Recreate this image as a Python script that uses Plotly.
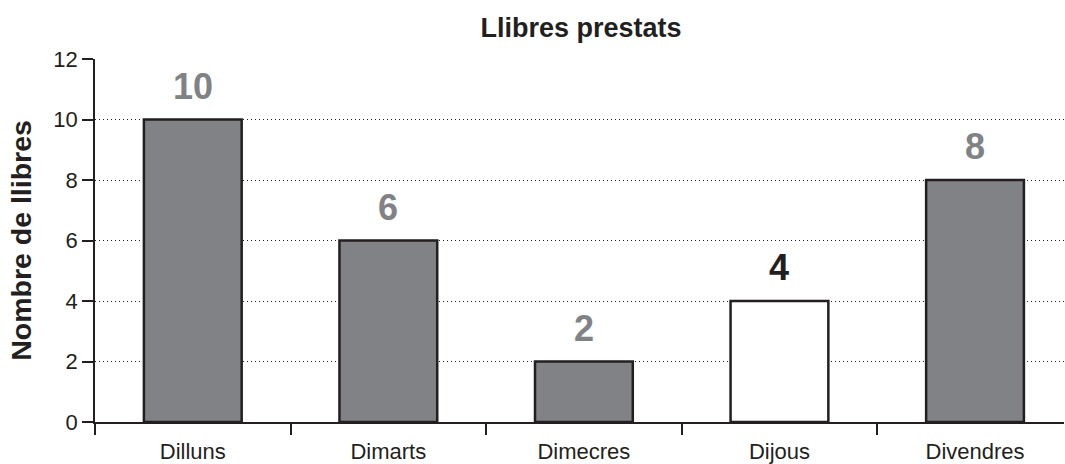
import plotly.graph_objects as go

days = ["Dilluns", "Dimarts", "Dimecres", "Dijous", "Divendres"]
books = [10, 6, 2, 4, 8]
fill_colors = ["#808285", "#808285", "#808285", "#ffffff", "#808285"]
label_colors = ["#808285", "#808285", "#808285", "#231f20", "#808285"]

ink = "#231f20"
font_family = "Liberation Sans, Arial, Helvetica, sans-serif"

fig = go.Figure()
fig.add_trace(go.Bar(
    x=days,
    y=books,
    width=0.5,
    marker=dict(color=fill_colors, line=dict(color=ink, width=2.5)),
    hoverinfo="x+y",
))

for d, v, c in zip(days, books, label_colors):
    fig.add_annotation(
        x=d, y=v, xref="x", yref="y",
        text=f"<b>{v}</b>",
        showarrow=False,
        yanchor="bottom",
        yshift=11,
        font=dict(family=font_family, size=36, color=c),
    )

fig.update_layout(
    width=1065,
    height=464,
    margin=dict(l=95, r=1, t=59, b=42),
    paper_bgcolor="white",
    plot_bgcolor="white",
    showlegend=False,
    font=dict(family=font_family, color=ink, size=22),
    title=dict(
        text="<b>Llibres prestats</b>",
        x=0.5455,
        xanchor="center",
        y=1 - 28 / 464,
        yanchor="middle",
        font=dict(size=27, color=ink, family=font_family),
    ),
)

fig.update_xaxes(
    type="category",
    range=[-0.5, 4.455],
    tickson="boundaries",
    ticks="outside",
    ticklen=11,
    tickwidth=1.5,
    tickcolor=ink,
    showline=True,
    linecolor=ink,
    linewidth=2,
    showgrid=False,
    ticklabelstandoff=9,
    tickfont=dict(size=22, color=ink, family=font_family),
)

fig.update_yaxes(
    range=[0, 12],
    tickvals=[0, 2, 4, 6, 8, 10, 12],
    ticks="outside",
    ticklen=11,
    tickwidth=1.5,
    tickcolor=ink,
    showline=True,
    linecolor=ink,
    linewidth=1.5,
    showgrid=True,
    gridcolor=ink,
    gridwidth=1,
    griddash="1px,3px",
    zeroline=False,
    tickfont=dict(size=22, color=ink, family=font_family),
    title=dict(text="<b>Nombre de llibres</b>", font=dict(size=28.5, color=ink, family=font_family), standoff=13),
)

fig.write_html(
    "out.html",
    config={"displayModeBar": False},
    post_script="document.body.style.margin='0px';",
)
